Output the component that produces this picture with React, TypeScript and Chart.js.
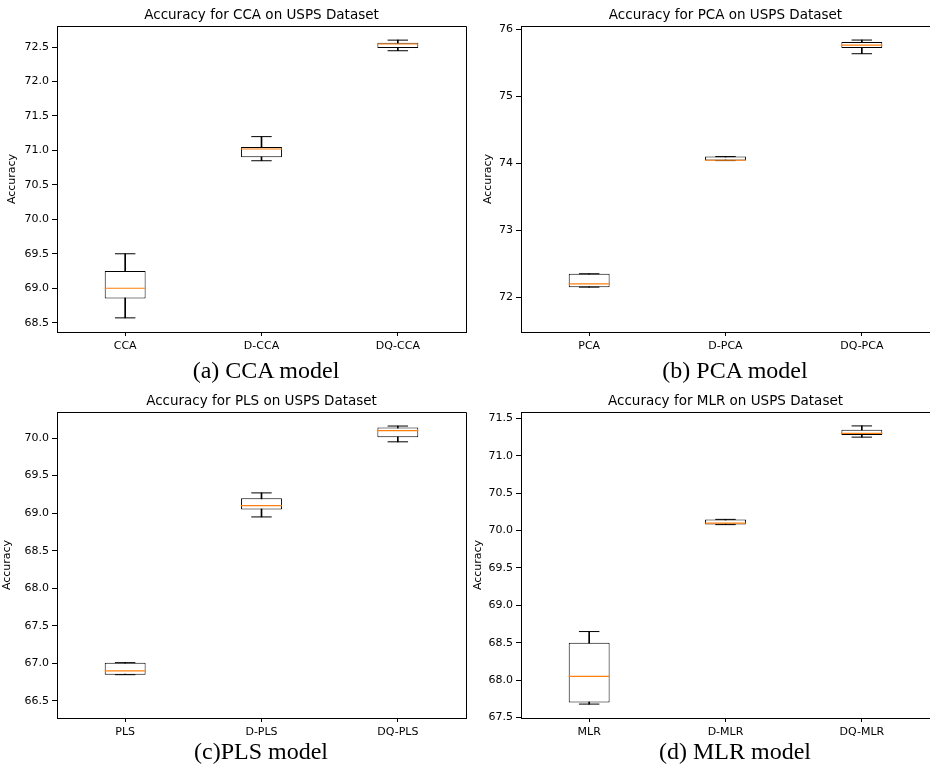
import React, { useEffect, useRef } from 'react';
import { Chart, registerables } from 'chart.js';

Chart.register(...registerables);

// ---------- data ----------
const ccaLabels = ['CCA', 'D-CCA', 'DQ-CCA'];
const ccaMin = [68.57, 70.85, 72.446];
const ccaQ1 = [68.85, 70.9, 72.485];
const ccaMed = [69.0, 71.02, 72.544];
const ccaQ3 = [69.25, 71.05, 72.562];
const ccaMax = [69.5, 71.2, 72.6];
const ccaTicks = [68.5, 69.0, 69.5, 70.0, 70.5, 71.0, 71.5, 72.0, 72.5];

const pcaLabels = ['PCA', 'D-PCA', 'DQ-PCA'];
const pcaMin = [72.15, 74.04, 75.636];
const pcaQ1 = [72.15, 74.04, 75.72];
const pcaMed = [72.2, 74.045, 75.765];
const pcaQ3 = [72.35, 74.1, 75.81];
const pcaMax = [72.35, 74.1, 75.84];
const pcaTicks = [72, 73, 74, 75, 76];

const plsLabels = ['PLS', 'D-PLS', 'DQ-PLS'];
const plsMin = [66.85, 68.95, 69.95];
const plsQ1 = [66.85, 69.05, 70.01];
const plsMed = [66.9, 69.1, 70.1];
const plsQ3 = [67.01, 69.2, 70.14];
const plsMax = [67.01, 69.27, 70.16];
const plsTicks = [66.5, 67.0, 67.5, 68.0, 68.5, 69.0, 69.5, 70.0];

const mlrLabels = ['MLR', 'D-MLR', 'DQ-MLR'];
const mlrMin = [67.68, 70.08, 71.25];
const mlrQ1 = [67.7, 70.08, 71.28];
const mlrMed = [68.05, 70.1, 71.3];
const mlrQ3 = [68.5, 70.15, 71.35];
const mlrMax = [68.65, 70.15, 71.4];
const mlrTicks = [67.5, 68.0, 68.5, 69.0, 69.5, 70.0, 70.5, 71.0, 71.5];

const titles = [
  'Accuracy for CCA on USPS Dataset',
  'Accuracy for PCA on USPS Dataset',
  'Accuracy for PLS on USPS Dataset',
  'Accuracy for MLR on USPS Dataset',
];
const captions = ['(a) CCA model', '(b) PCA model', '(c)PLS model', '(d) MLR model'];
const yAxisTitle = 'Accuracy';

// ---------- layout / style ----------
const ORANGE = '#ff7f0e';
const FONT = "'DejaVu Sans', sans-serif";

type Panel = {
  labels: string[]; min: number[]; q1: number[]; med: number[]; q3: number[]; max: number[];
  ticks: number[]; yMin: number; yMax: number; dec: number; title: string; caption: string;
  left: number; top: number; width: number; height: number;
  padRight: number; yWidth: number; xHeight: number; titlePadTop: number; titlePadBottom: number;
  yTitlePad: number; capX: number; capY: number;
};

const panels: Panel[] = [
  {
    labels: ccaLabels, min: ccaMin, q1: ccaQ1, med: ccaMed, q3: ccaQ3, max: ccaMax, ticks: ccaTicks,
    yMin: 68.365, yMax: 72.805, dec: 1, title: titles[0], caption: captions[0],
    left: 0, top: 0, width: 470, height: 385, padRight: 4, yWidth: 57, xHeight: 53,
    titlePadTop: 7.5, titlePadBottom: 2.3, yTitlePad: 5.5, capX: 266, capY: 358,
  },
  {
    labels: pcaLabels, min: pcaMin, q1: pcaQ1, med: pcaMed, q3: pcaQ3, max: pcaMax, ticks: pcaTicks,
    yMin: 71.48, yMax: 76.05, dec: 0, title: titles[1], caption: captions[1],
    left: 470, top: 0, width: 460, height: 385, padRight: 0, yWidth: 51, xHeight: 53,
    titlePadTop: 7.5, titlePadBottom: 2.3, yTitlePad: 11.5, capX: 735, capY: 358,
  },
  {
    labels: plsLabels, min: plsMin, q1: plsQ1, med: plsMed, q3: plsQ3, max: plsMax, ticks: plsTicks,
    yMin: 66.273, yMax: 70.347, dec: 1, title: titles[2], caption: captions[2],
    left: 0, top: 385, width: 470, height: 380, padRight: 4, yWidth: 57, xHeight: 47,
    titlePadTop: 8.5, titlePadBottom: 2.3, yTitlePad: 1, capX: 261, capY: 739,
  },
  {
    labels: mlrLabels, min: mlrMin, q1: mlrQ1, med: mlrMed, q3: mlrQ3, max: mlrMax, ticks: mlrTicks,
    yMin: 67.494, yMax: 71.586, dec: 1, title: titles[3], caption: captions[3],
    left: 470, top: 385, width: 460, height: 380, padRight: 0, yWidth: 51, xHeight: 47,
    titlePadTop: 8.5, titlePadBottom: 2.3, yTitlePad: 1.5, capX: 735, capY: 739,
  },
];

const framePlugin = {
  id: 'frame',
  afterDraw(chart: any) {
    const { ctx, chartArea } = chart;
    const { left, right, top, bottom } = chartArea;
    ctx.save();
    ctx.strokeStyle = '#000';
    ctx.lineWidth = 1;
    ctx.beginPath();
    const t = Math.round(top) + 0.5;
    const r = Math.round(right) + 0.5;
    ctx.moveTo(Math.round(left), t);
    ctx.lineTo(r, t);
    ctx.lineTo(r, Math.round(bottom) + 1);
    ctx.stroke();
    ctx.restore();
  },
};

function BoxPanel({ p }: { p: Panel }) {
  const ref = useRef<HTMLCanvasElement | null>(null);
  useEffect(() => {
    if (!ref.current) return;
    const plotW = p.width - p.padRight - p.yWidth;
    const unit = plotW / p.labels.length;
    const boxHalf = (unit * 0.3) / 2;
    const capHalf = boxHalf / 2;
    const chart = new Chart(ref.current, {
      type: 'bar',
      data: {
        labels: p.labels,
        datasets: [
          {
            type: 'line', data: p.med, showLine: false, pointStyle: 'line',
            pointRadius: boxHalf, pointHoverRadius: boxHalf, pointBorderColor: ORANGE,
            pointBorderWidth: 1.2, order: 0,
          } as any,
          {
            type: 'line', data: p.max, showLine: false, pointStyle: 'line',
            pointRadius: capHalf, pointHoverRadius: capHalf, pointBorderColor: '#000',
            pointBorderWidth: 1, order: 1,
          } as any,
          {
            type: 'line', data: p.min, showLine: false, pointStyle: 'line',
            pointRadius: capHalf, pointHoverRadius: capHalf, pointBorderColor: '#000',
            pointBorderWidth: 1, order: 1,
          } as any,
          {
            type: 'bar', data: p.q1.map((v, i) => [v, p.q3[i]]), backgroundColor: '#fff',
            borderColor: '#000', borderWidth: 1, borderSkipped: false,
            barPercentage: 0.3, categoryPercentage: 1, grouped: false, order: 2,
          } as any,
          {
            type: 'bar', data: p.min.map((v, i) => [v, p.max[i]]), backgroundColor: '#000',
            borderWidth: 0, barThickness: 1, grouped: false, order: 3,
          } as any,
        ],
      },
      options: {
        responsive: false,
        animation: false,
        events: [],
        layout: { autoPadding: false, padding: { left: 0, right: p.padRight, top: 0, bottom: 0 } },
        plugins: {
          legend: { display: false },
          tooltip: { enabled: false },
          title: {
            display: true, text: p.title, fullSize: false, color: '#000',
            font: { family: FONT, size: 13.5, weight: 'normal', lineHeight: 1.2 },
            padding: { top: p.titlePadTop, bottom: p.titlePadBottom },
          },
        },
        scales: {
          x: {
            type: 'category', offset: true,
            grid: { display: true, drawOnChartArea: false, drawTicks: true, tickLength: 4, color: '#000', offset: false },
            border: { display: true, color: '#000', width: 1 },
            ticks: { color: '#000', font: { family: FONT, size: 11 }, padding: 4, maxRotation: 0, autoSkip: false },
            afterFit: (s: any) => { s.height = p.xHeight; },
          },
          y: {
            type: 'linear', min: p.yMin, max: p.yMax,
            afterBuildTicks: (s: any) => { s.ticks = p.ticks.map((v) => ({ value: v })); },
            grid: { display: true, drawOnChartArea: false, drawTicks: true, tickLength: 5, color: '#000' },
            border: { display: true, color: '#000', width: 1 },
            ticks: {
              color: '#000', font: { family: FONT, size: 11 }, padding: 3,
              callback: (v: any) => Number(v).toFixed(p.dec),
            },
            title: {
              display: true, text: yAxisTitle, color: '#000',
              font: { family: FONT, size: 11 }, padding: { top: p.yTitlePad, bottom: 0 },
            },
            afterFit: (s: any) => { s.width = p.yWidth; },
          },
        },
      } as any,
      plugins: [framePlugin],
    });
    return () => chart.destroy();
  }, [p]);
  return (
    <canvas
      ref={ref}
      width={p.width}
      height={p.height}
      style={{ position: 'absolute', left: p.left, top: p.top, width: p.width, height: p.height, display: 'block' }}
    />
  );
}

export default function App() {
  return (
    <div style={{ position: 'absolute', left: 0, top: 0, width: 930, height: 765, background: '#fff', overflow: 'hidden' }}>
      {panels.map((p, i) => (
        <BoxPanel key={i} p={p} />
      ))}
      {panels.map((p, i) => (
        <div
          key={'c' + i}
          style={{
            position: 'absolute', left: p.capX - 150, top: p.capY, width: 300, textAlign: 'center',
            fontFamily: "'Liberation Serif', 'Times New Roman', serif", fontSize: 24, lineHeight: '24px',
            color: '#000', whiteSpace: 'nowrap',
          }}
        >
          {p.caption}
        </div>
      ))}
    </div>
  );
}
